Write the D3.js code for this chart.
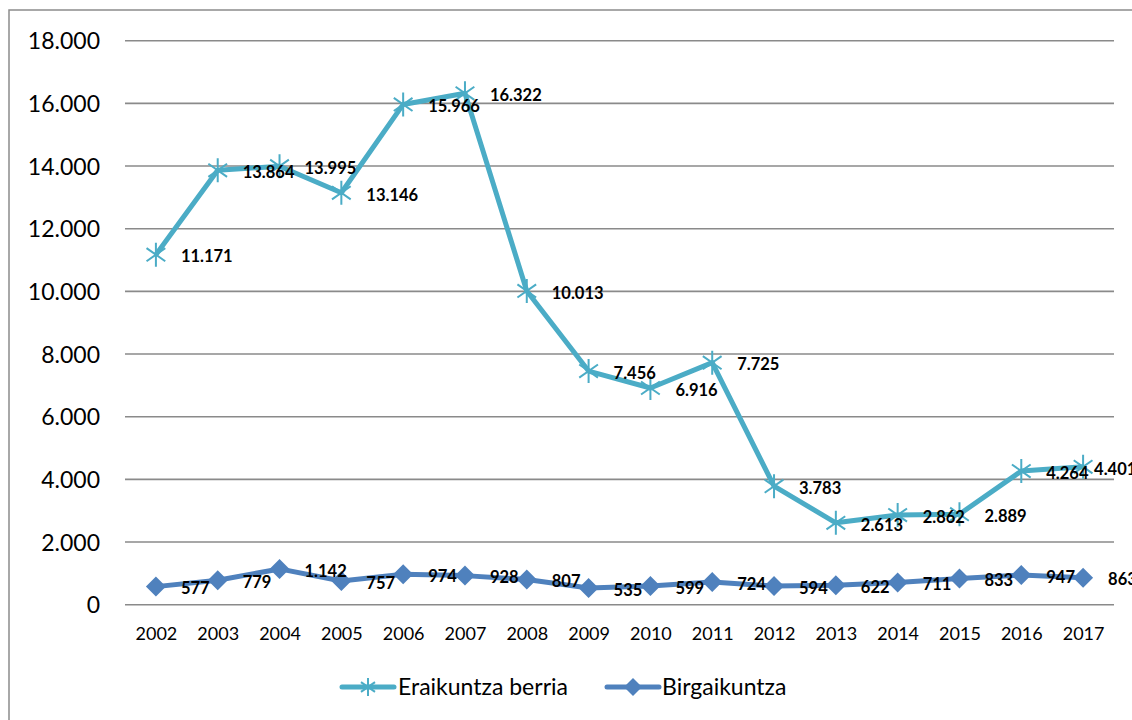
<!DOCTYPE html>
<html><head><meta charset="utf-8">
<script src="https://cdn.jsdelivr.net/npm/d3@7"></script>
<style>body{margin:0;background:#fff}svg{display:block}</style>
</head><body>
<script>
const years = ["2002","2003","2004","2005","2006","2007","2008","2009","2010","2011","2012","2013","2014","2015","2016","2017"];
const eraikuntza = [11171,13864,13995,13146,15966,16322,10013,7456,6916,7725,3783,2613,2862,2889,4264,4401];
const birgaikuntza = [577,779,1142,757,974,928,807,535,599,724,594,622,711,833,947,863];
const yTicks = [0,2000,4000,6000,8000,10000,12000,14000,16000,18000];
const seriesNames = ["Eraikuntza berria","Birgaikuntza"];
const colors = ["#4BACC6","#4F81BD"];

const W=1132,H=720;
const svg=d3.select("body").append("svg").attr("width",W).attr("height",H);
const font="Lato, 'Open Sans', sans-serif";
// border
svg.append("rect").attr("x",9).attr("y",10).attr("width",W).attr("height",H).attr("fill","none").attr("stroke","#8c8c8c").attr("stroke-width",1.5);

const x=d3.scalePoint().domain(years).range([125,1114]).padding(0.5);
const y=d3.scaleLinear().domain([0,18000]).range([604.7,40.7]);
const fmt=v=>d3.format(",")(v).replace(/,/g,".");

// gridlines
svg.append("g").selectAll("line").data(yTicks).join("line")
  .attr("x1",125).attr("x2",1114).attr("y1",d=>y(d)).attr("y2",d=>y(d))
  .attr("stroke","#8a8a8a").attr("stroke-width",1.6);

// y axis labels
const yAxis=d3.axisLeft(y).tickValues(yTicks).tickFormat(fmt).tickSize(0).tickPadding(0);
const ya=svg.append("g").attr("transform","translate(100,0)").call(yAxis);
ya.select(".domain").remove();
ya.selectAll("text").attr("font-family",font).attr("font-size",23).attr("fill","#000").attr("dy","0.35em");

// x axis labels
const xAxis=d3.axisBottom(x).tickSize(0).tickPadding(0);
const xa=svg.append("g").attr("transform","translate(0,626)").call(xAxis);
xa.select(".domain").remove();
xa.selectAll("text").attr("font-family",font).attr("font-size",18).attr("fill","#000").attr("dy","0.35em").attr("y",8);

const line=d3.line().x((d,i)=>x(years[i])).y(d=>y(d));
const data=[eraikuntza,birgaikuntza];

function star(g,cx,cy,c,r){
  const a=r*0.78;
  g.append("path").attr("d",`M${cx},${cy-r}L${cx},${cy+r}M${cx-a},${cy-a*0.7}L${cx+a},${cy+a*0.7}M${cx-a},${cy+a*0.7}L${cx+a},${cy-a*0.7}`)
   .attr("stroke",c).attr("stroke-width",2).attr("fill","none");
}
function diamond(g,cx,cy,c,r){
  g.append("path").attr("d",`M${cx},${cy-r}L${cx+r},${cy}L${cx},${cy+r}L${cx-r},${cy}Z`).attr("fill",c);
}

data.forEach((s,k)=>{
  const g=svg.append("g");
  g.append("path").datum(s).attr("d",line).attr("fill","none").attr("stroke",colors[k]).attr("stroke-width",5).attr("stroke-linejoin","round");
  s.forEach((v,i)=>{ if(k===0) star(g,x(years[i]),y(v),colors[k],12); else diamond(g,x(years[i]),y(v),colors[k],10); });
  g.selectAll("text").data(s).join("text")
   .attr("x",(d,i)=>x(years[i])+((k===0 && i===s.length-1)?11:25)).attr("y",d=>y(d)+2).attr("dy","0.35em")
   .attr("font-family",font).attr("font-weight","bold").attr("font-size",16.5).attr("fill","#000")
   .text(fmt);
});

// legend
const lg=svg.append("g");
const items=[{x0:342,t:398},{x0:607,t:662}];
items.forEach((it,k)=>{
  lg.append("line").attr("x1",it.x0).attr("x2",it.x0+52).attr("y1",687).attr("y2",687).attr("stroke",colors[k]).attr("stroke-width",5).attr("stroke-linecap","round");
  if(k===0) star(lg,it.x0+26,687,colors[k],9); else diamond(lg,it.x0+26,687,colors[k],9);
  lg.append("text").attr("x",it.t).attr("y",687).attr("dy","0.35em").attr("font-family",font).attr("font-size",23).attr("fill","#000").text(seriesNames[k]);
});
</script>
</body></html>
